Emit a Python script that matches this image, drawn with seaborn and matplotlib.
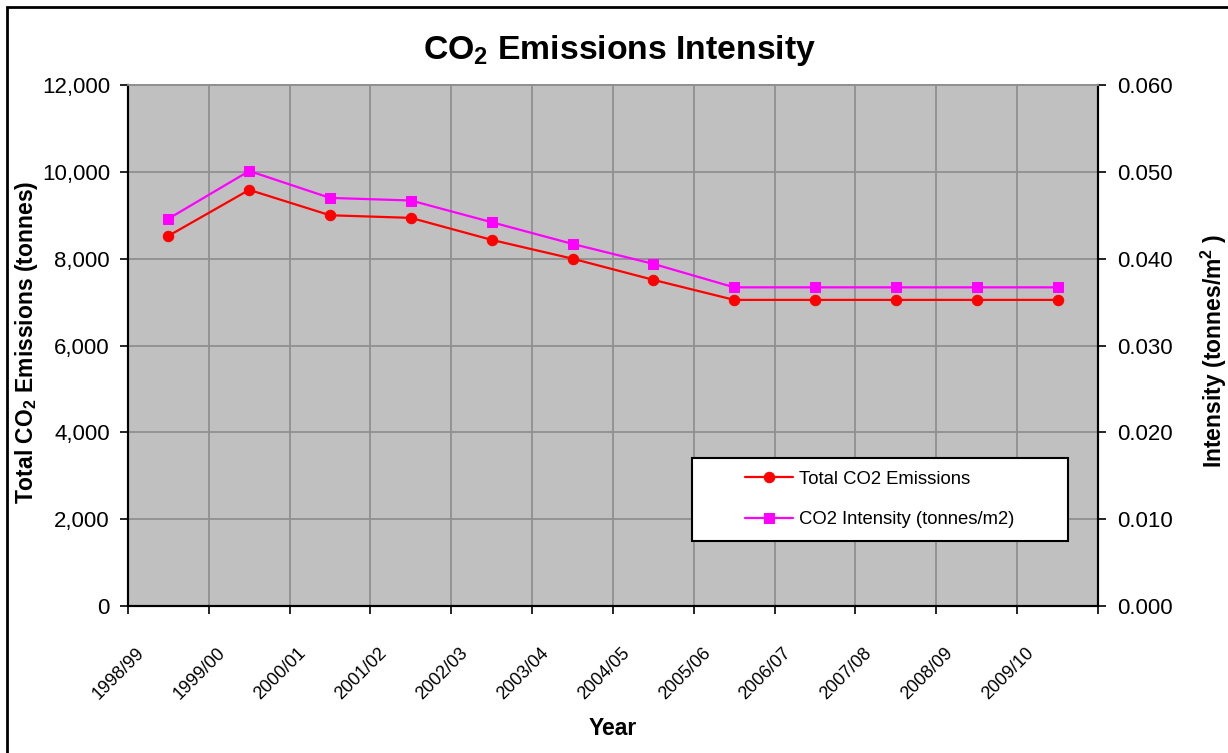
import numpy as np
import matplotlib
matplotlib.use('Agg')
import matplotlib.pyplot as plt
import matplotlib.transforms as mtransforms
from matplotlib.patches import Rectangle
from matplotlib.ticker import FuncFormatter
import seaborn as sns

# data
years = ['1998/99', '1999/00', '2000/01', '2001/02', '2002/03', '2003/04',
         '2004/05', '2005/06', '2006/07', '2007/08', '2008/09', '2009/10']
total_co2 = [8525, 9585, 9000, 8940, 8433, 8000, 7512, 7051, 7051, 7051, 7051, 7051]
intensity = [0.0446, 0.0501, 0.0470, 0.0467, 0.0442, 0.0417, 0.0394,
             0.0367, 0.0367, 0.0367, 0.0367, 0.0367]

sns.set_theme(style='white')
plt.rcParams['font.family'] = ['Liberation Sans', 'DejaVu Sans']
plt.rcParams['mathtext.default'] = 'regular'
for k in ('text.color', 'axes.labelcolor', 'xtick.color', 'ytick.color'):
    plt.rcParams[k] = 'black'

GRID = '#909090'
xpos = np.arange(len(years))

fig = plt.figure(figsize=(12.28, 7.53), dpi=100)
ax = fig.add_axes([0.1042, 0.1952, 0.7899, 0.6919])
ax.set_facecolor('#C0C0C0')
ax2 = ax.twinx()

sns.lineplot(x=xpos, y=total_co2, ax=ax, color='#FF0000', marker='o', markersize=7.5,
             markeredgecolor='#FF0000', linewidth=1.6, label='Total CO2 Emissions')
sns.lineplot(x=xpos, y=intensity, ax=ax2, color='#FF00FF', marker='s', markersize=6.5,
             markeredgecolor='#FF00FF', linewidth=1.6, label='CO2 Intensity (tonnes/m2)')
for a in (ax, ax2):
    if a.get_legend() is not None:
        a.get_legend().remove()

ax.set_xlim(-0.5, len(years) - 0.5)
ax.set_ylim(0, 12000)
ax2.set_ylim(0, 0.06)
ax.set_yticks(np.arange(0, 12001, 2000))
ax2.set_yticks(np.arange(0, 0.0601, 0.01))
ax.yaxis.set_major_formatter(FuncFormatter(lambda v, p: f'{v:,.0f}'))
ax2.yaxis.set_major_formatter(FuncFormatter(lambda v, p: f'{v:.3f}'))

# tick marks sit on category boundaries, labels hang from them
ax.set_xticks(np.arange(-0.5, len(years), 1.0))
ax.set_xticklabels(years + [''], rotation=45, ha='right', fontsize=13)
ax.grid(True, color=GRID, linewidth=1.3)
ax.set_axisbelow(True)

ax.tick_params(axis='y', direction='out', length=6, width=1.2, pad=7, labelsize=16, left=True)
ax.tick_params(axis='x', direction='out', length=6, width=1.2, pad=22, bottom=True)
ax2.tick_params(axis='y', direction='out', length=6, width=1.2, pad=8, labelsize=16, right=True)

shift = mtransforms.ScaledTranslation(20 / 100, 0, fig.dpi_scale_trans)
for lab in ax.get_xticklabels():
    lab.set_transform(lab.get_transform() + shift)

for a in (ax, ax2):
    for side in ('left', 'bottom', 'right'):
        a.spines[side].set_color('black')
        a.spines[side].set_linewidth(1.5)
    a.spines['top'].set_color(GRID)
    a.spines['top'].set_linewidth(1.3)

ax.set_xlabel('Year', fontsize=16.5, fontweight='bold')
ax.xaxis.set_label_coords(0.5, -0.213)
ax.set_ylabel('Total CO$_2$ Emissions (tonnes)', fontsize=16.5, fontweight='bold')
ax.yaxis.set_label_coords(-0.091, 0.507)
ax2.set_ylabel('Intensity (tonnes/m$^2$ )', fontsize=16.5, fontweight='bold', rotation=90)
ax2.yaxis.set_label_coords(1.104, 0.49)

fig.text(620 / 1228, 1 - 50 / 753, 'CO$_2$ Emissions Intensity', ha='center', va='center',
         fontsize=24.3, fontweight='bold')

# legend box
box = Rectangle((0.581, 0.125), 0.388, 0.159, transform=ax2.transAxes, facecolor='white',
                edgecolor='black', linewidth=1.5, zorder=5)
ax2.add_patch(box)
h1, l1 = ax.get_legend_handles_labels()
h2, l2 = ax2.get_legend_handles_labels()
leg = ax2.legend(h1 + h2, l1 + l2, loc='center', bbox_to_anchor=(0.775, 0.2045),
                 frameon=False, fontsize=13.3, handlelength=2.6, handletextpad=0.35,
                 labelspacing=1.25, borderpad=0)
leg.set_zorder(6)

# outer chart border
fig.patches.append(Rectangle((7 / 1228, -0.05), 1.1, 1 - 7 / 753 + 0.05,
                             transform=fig.transFigure, fill=False, edgecolor='black',
                             linewidth=2))

fig.savefig('out.png', dpi=100)
